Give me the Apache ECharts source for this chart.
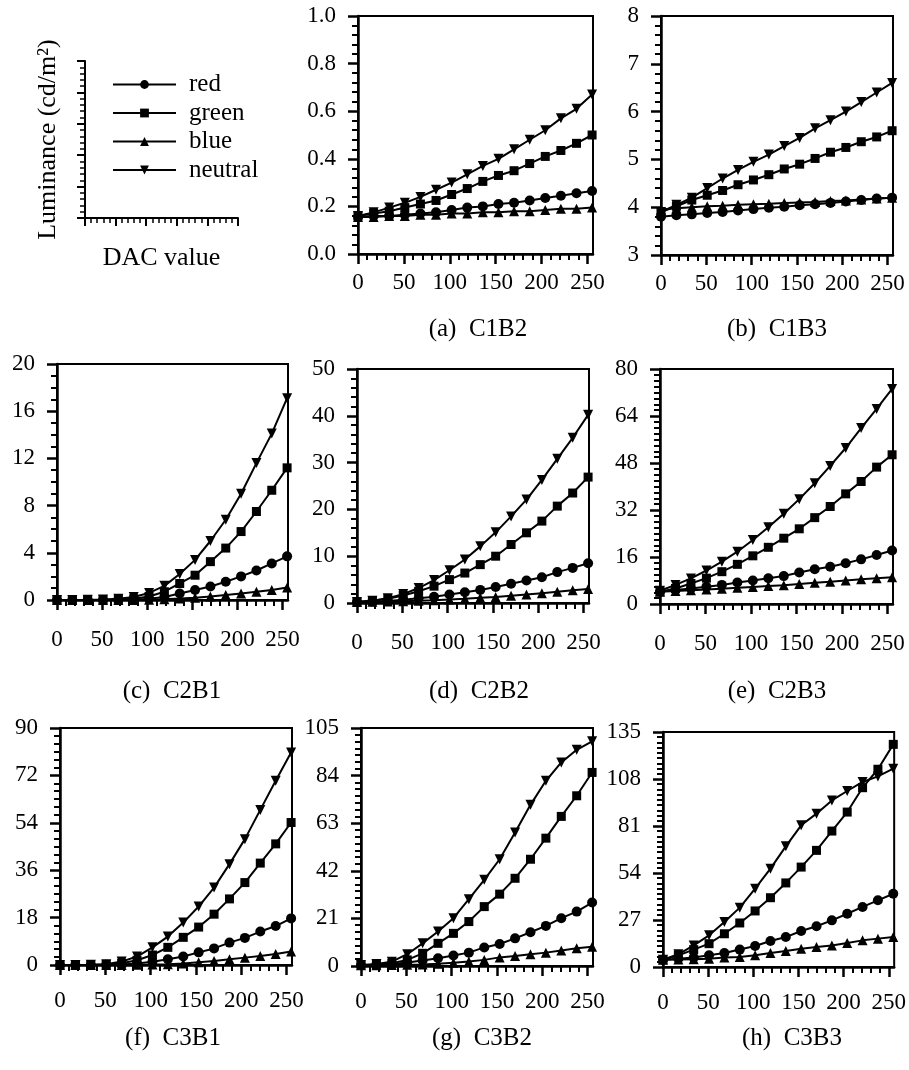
<!DOCTYPE html>
<html>
<head>
<meta charset="utf-8">
<title>Luminance vs DAC value</title>
<script src="https://cdn.jsdelivr.net/npm/echarts@6/dist/echarts.min.js"></script>
<style>
  html, body { margin: 0; padding: 0; background: #fff; }
  #chart { width: 909px; height: 1070px; }
</style>
</head>
<body>
<div id="chart"></div>
<script>
// DAC input levels (x values, shared by all panels)
const dac = [0, 17, 34, 51, 68, 85, 102, 119, 136, 153, 170, 187, 204, 221, 238, 255];
const xTicks = [0, 50, 100, 150, 200, 250];
const seriesNames = ["red", "green", "blue", "neutral"];

// (a) C1B2
const aRed = [0.155, 0.16, 0.16, 0.165, 0.17, 0.175, 0.185, 0.195, 0.2, 0.21, 0.215, 0.225, 0.235, 0.245, 0.255, 0.265];
const aGreen = [0.16, 0.17, 0.18, 0.195, 0.21, 0.225, 0.25, 0.275, 0.305, 0.33, 0.35, 0.38, 0.41, 0.435, 0.465, 0.5];
const aBlue = [0.155, 0.155, 0.16, 0.16, 0.165, 0.165, 0.17, 0.17, 0.175, 0.175, 0.18, 0.18, 0.185, 0.19, 0.19, 0.195];
const aNeutral = [0.16, 0.175, 0.195, 0.215, 0.24, 0.27, 0.3, 0.335, 0.37, 0.4, 0.44, 0.48, 0.52, 0.57, 0.61, 0.67];
// (b) C1B3
const bRed = [3.8, 3.83, 3.85, 3.88, 3.9, 3.93, 3.96, 3.99, 4.01, 4.04, 4.06, 4.09, 4.12, 4.15, 4.18, 4.2];
const bGreen = [3.9, 4.02, 4.15, 4.25, 4.35, 4.47, 4.57, 4.68, 4.8, 4.9, 5.02, 5.15, 5.25, 5.37, 5.47, 5.6];
const bBlue = [3.95, 3.98, 4.0, 4.02, 4.03, 4.05, 4.06, 4.07, 4.09, 4.1, 4.11, 4.13, 4.14, 4.16, 4.18, 4.2];
const bNeutral = [3.9, 4.05, 4.2, 4.4, 4.6, 4.78, 4.95, 5.1, 5.28, 5.45, 5.65, 5.82, 6.0, 6.2, 6.4, 6.6];
// (c) C2B1
const cRed = [0, 0, 0, 0, 0.01, 0.03, 0.1, 0.25, 0.55, 0.85, 1.15, 1.55, 2.0, 2.5, 3.1, 3.7];
const cGreen = [0, 0, 0.01, 0.02, 0.05, 0.1, 0.3, 0.7, 1.4, 2.1, 3.25, 4.4, 5.8, 7.5, 9.3, 11.2];
const cBlue = [0, 0, 0, 0, 0, 0.01, 0.03, 0.06, 0.12, 0.2, 0.3, 0.42, 0.55, 0.7, 0.85, 1.05];
const cNeutral = [0, 0.01, 0.02, 0.05, 0.1, 0.25, 0.6, 1.2, 2.2, 3.4, 5.0, 6.8, 9.0, 11.6, 14.1, 17.1];
// (d) C2B2
const dRed = [0.2, 0.3, 0.45, 0.7, 1.0, 1.35, 1.8, 2.3, 2.8, 3.4, 4.1, 4.8, 5.5, 6.6, 7.5, 8.5];
const dGreen = [0.2, 0.5, 0.9, 1.6, 2.5, 3.6, 5.0, 6.4, 8.2, 10.0, 12.5, 15.0, 17.5, 20.7, 23.5, 26.9];
const dBlue = [0.2, 0.25, 0.3, 0.4, 0.5, 0.6, 0.75, 0.9, 1.1, 1.3, 1.55, 1.8, 2.1, 2.4, 2.7, 3.0];
const dNeutral = [0.2, 0.5, 1.0, 1.9, 3.2, 4.9, 7.0, 9.3, 12.1, 15.1, 18.5, 22.1, 26.3, 30.8, 35.3, 40.2];
// (e) C2B3
const eRed = [4.2, 4.8, 5.3, 5.9, 6.5, 7.3, 8.0, 8.75, 9.5, 10.7, 11.8, 12.7, 13.9, 15.2, 16.7, 18.2];
const eGreen = [4.2, 5.3, 7.0, 8.8, 11.0, 13.5, 16.4, 19.3, 22.4, 25.6, 29.4, 33.2, 37.5, 41.7, 46.6, 50.8];
const eBlue = [4.2, 4.4, 4.7, 4.9, 5.2, 5.5, 5.8, 6.1, 6.4, 6.8, 7.2, 7.6, 8.0, 8.4, 8.8, 9.1];
const eNeutral = [4.5, 6.5, 8.7, 11.4, 14.4, 17.8, 21.8, 26.1, 30.7, 35.7, 41.1, 47.0, 53.1, 59.9, 66.4, 73.2];
// (f) C3B1
const fRed = [0, 0, 0, 0.05, 0.2, 0.6, 1.2, 2.2, 3.2, 4.8, 6.3, 8.5, 10.3, 12.7, 14.8, 17.7];
const fGreen = [0, 0, 0.05, 0.2, 0.7, 1.8, 3.8, 6.7, 10.5, 14.4, 19.3, 25.1, 31.3, 38.7, 46.0, 54.1];
const fBlue = [0, 0, 0, 0, 0, 0.05, 0.15, 0.3, 0.6, 1.0, 1.5, 2.2, 2.8, 3.4, 4.2, 5.1];
const fNeutral = [0, 0, 0.1, 0.3, 1.3, 3.2, 6.7, 10.8, 16.1, 22.2, 29.4, 38.3, 47.8, 58.9, 70.0, 80.7];
// (g) C3B2
const gRed = [0.4, 0.5, 0.9, 1.5, 2.4, 3.4, 4.6, 5.9, 8.2, 9.7, 12.2, 14.9, 17.7, 21.1, 24.0, 28.0];
const gGreen = [0.4, 0.6, 1.2, 2.7, 5.6, 10.0, 14.4, 19.6, 26.2, 31.7, 38.7, 47.1, 56.4, 66.0, 75.1, 85.4];
const gBlue = [0.3, 0.3, 0.4, 0.5, 0.7, 1.0, 1.4, 2.0, 2.7, 3.8, 4.4, 5.2, 5.9, 6.8, 7.8, 8.5];
const gNeutral = [0.4, 0.9, 1.9, 5.2, 10.0, 15.2, 21.1, 29.5, 38.0, 47.1, 58.9, 71.1, 81.7, 89.8, 95.4, 99.1];
// (h) C3B3
const hRed = [4.2, 4.8, 5.4, 6.7, 8.0, 10.0, 12.1, 14.9, 17.2, 20.7, 23.4, 26.8, 30.6, 34.5, 38.3, 42.1];
const hGreen = [4.2, 6.7, 10.0, 13.4, 19.1, 25.3, 32.2, 39.8, 48.3, 57.4, 67.0, 78.1, 89.0, 103.0, 113.6, 127.9];
const hBlue = [4.2, 4.3, 4.5, 4.8, 5.4, 5.7, 6.7, 8.0, 9.2, 10.5, 11.5, 12.4, 13.8, 15.3, 16.3, 17.2];
const hNeutral = [4.2, 7.3, 12.4, 18.2, 25.9, 34.1, 45.0, 56.5, 69.3, 81.4, 88.1, 95.7, 101.1, 106.3, 109.5, 113.9];

// panel layout: grid [left, top, width, height], y [min, max, interval, minor splits]
const panels = [
  { title: "(a)  C1B2", grid: [358, 16, 235, 238], y: [0, 1, 0.2, 5], dec: 1, xMargin: 17, tx: 478, ty: 330, data: [aRed, aGreen, aBlue, aNeutral] },
  { title: "(b)  C1B3", grid: [661, 16, 232, 239], y: [3, 8, 1, 5], dec: 0, xMargin: 17, tx: 777, ty: 330, data: [bRed, bGreen, bBlue, bNeutral] },
  { title: "(c)  C2B1", grid: [57, 364, 231, 236], y: [0, 20, 4, 4], dec: 0, xMargin: 28, tx: 172, ty: 692, data: [cRed, cGreen, cBlue, cNeutral] },
  { title: "(d)  C2B2", grid: [357, 369, 232, 234], y: [0, 50, 10, 5], dec: 0, xMargin: 28, tx: 479, ty: 692, data: [dRed, dGreen, dBlue, dNeutral] },
  { title: "(e)  C2B3", grid: [660, 369, 233, 235], y: [0, 80, 16, 8], dec: 0, xMargin: 28, tx: 777, ty: 692, data: [eRed, eGreen, eBlue, eNeutral] },
  { title: "(f)  C3B1", grid: [60, 728, 232, 237], y: [0, 90, 18, 6], dec: 0, xMargin: 24, tx: 173, ty: 1039, data: [fRed, fGreen, fBlue, fNeutral] },
  { title: "(g)  C3B2", grid: [361, 728, 232, 238], y: [0, 105, 21, 7], dec: 0, xMargin: 24, tx: 482, ty: 1039, data: [gRed, gGreen, gBlue, gNeutral] },
  { title: "(h)  C3B3", grid: [663, 732, 232, 235], y: [0, 135, 27, 9], dec: 0, xMargin: 24, tx: 792, ty: 1039, data: [hRed, hGreen, hBlue, hNeutral] }
];

const FONT = "Liberation Serif";
const black = "#000";
const symbols = [
  { symbol: "circle", size: 10, rotate: 0 },
  { symbol: "rect", size: 9, rotate: 0 },
  { symbol: "triangle", size: 10, rotate: 0 },
  { symbol: "triangle", size: 10, rotate: 180 }
];

const xMax = 256;
const minorX = [];
for (let v = 10; v < 255; v += 10) if (v % 50 !== 0) minorX.push(v);

const grids = [];
const xAxes = [];
const yAxes = [];
const series = [];
const titles = [];

// key panel (legend + axis names)
grids.push({ left: 85, top: 61, width: 153, height: 157, show: false });
xAxes.push({
  type: "value", gridIndex: 0, min: 0, max: 5, interval: 1,
  name: "DAC value", nameLocation: "middle", nameGap: 27,
  nameTextStyle: { fontFamily: FONT, fontSize: 26, color: black },
  axisLine: { onZero: false, lineStyle: { color: black, width: 2 } },
  axisTick: { length: 8, lineStyle: { color: black, width: 2 } },
  minorTick: { show: true, splitNumber: 5, length: 5, lineStyle: { color: black, width: 1.5 } },
  axisLabel: { show: false }, splitLine: { show: false }
});
yAxes.push({
  type: "value", gridIndex: 0, min: 0, max: 5, interval: 1,
  name: "Luminance (cd/m²)", nameLocation: "middle", nameGap: 24, nameRotate: 90,
  nameTextStyle: { fontFamily: FONT, fontSize: 26, color: black },
  axisLine: { onZero: false, lineStyle: { color: black, width: 2 } },
  axisTick: { length: 8, lineStyle: { color: black, width: 2 } },
  minorTick: { show: true, splitNumber: 5, length: 5, lineStyle: { color: black, width: 1.5 } },
  axisLabel: { show: false }, splitLine: { show: false }
});

panels.forEach((p, i) => {
  const gi = i + 1;
  grids.push({
    left: p.grid[0], top: p.grid[1], width: p.grid[2], height: p.grid[3],
    show: true, borderColor: black, borderWidth: 2, backgroundColor: "transparent"
  });
  const xMain = xAxes.length;
  xAxes.push({
    type: "value", gridIndex: gi, min: 0, max: xMax, position: "bottom",
    axisLine: { onZero: false, lineStyle: { color: black, width: 2.5 } },
    axisTick: { show: true, length: 10, customValues: xTicks, lineStyle: { color: black, width: 2.5 } },
    minorTick: { show: false },
    axisLabel: { customValues: xTicks, margin: p.xMargin, color: black, fontFamily: FONT, fontSize: 23 },
    splitLine: { show: false }
  });
  // minor ticks of the x axis
  xAxes.push({
    type: "value", gridIndex: gi, min: 0, max: xMax, position: "bottom", offset: 0,
    axisLine: { show: false },
    axisTick: { show: true, length: 6, customValues: minorX, lineStyle: { color: black, width: 2 } },
    axisLabel: { show: false }, splitLine: { show: false }
  });
  const yi = yAxes.length;
  yAxes.push({
    type: "value", gridIndex: gi, min: p.y[0], max: p.y[1], interval: p.y[2],
    axisLine: { onZero: false, lineStyle: { color: black, width: 2.5 } },
    axisTick: { length: 10, lineStyle: { color: black, width: 2.5 } },
    minorTick: { show: true, splitNumber: p.y[3], length: 6, lineStyle: { color: black, width: 2 } },
    axisLabel: {
      margin: 22, color: black, fontFamily: FONT, fontSize: 23,
      formatter: v => p.dec ? v.toFixed(p.dec) : String(Math.round(v))
    },
    splitLine: { show: false }
  });
  p.data.forEach((vals, k) => {
    series.push({
      name: seriesNames[k], type: "line",
      xAxisIndex: xMain, yAxisIndex: yi,
      data: dac.map((x, j) => [x, vals[j]]),
      symbol: symbols[k].symbol, symbolSize: symbols[k].size, symbolRotate: symbols[k].rotate,
      showSymbol: true, clip: false,
      lineStyle: { color: black, width: 2 },
      itemStyle: { color: black },
      emphasis: { disabled: true }
    });
  });
  titles.push({
    text: p.title, left: p.tx, top: p.ty - 13, textAlign: "center", padding: 0,
    textStyle: { fontFamily: FONT, fontSize: 25, fontWeight: "normal", color: black }
  });
});

const option = {
  backgroundColor: "#fff",
  animation: false,
  title: titles,
  legend: {
    data: seriesNames, orient: "vertical", left: 107, top: 67,
    itemWidth: 63, itemHeight: 11, itemGap: 3.5,
    textStyle: { fontFamily: FONT, fontSize: 25, lineHeight: 25, color: black, padding: [0, 0, 0, 8] },
    selectedMode: false
  },
  grid: grids,
  xAxis: xAxes,
  yAxis: yAxes,
  series: series
};

const chart = echarts.init(document.getElementById("chart"), null, { renderer: "canvas" });
chart.setOption(option);
</script>
</body>
</html>
